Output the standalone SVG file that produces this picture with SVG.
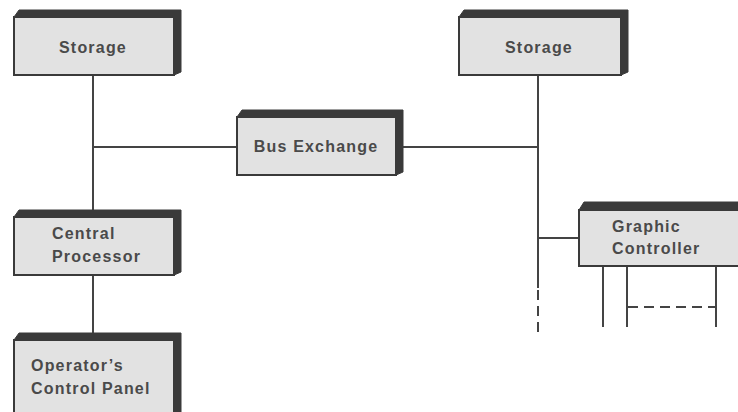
<svg xmlns="http://www.w3.org/2000/svg" width="738" height="412" viewBox="0 0 738 412">
<style>
.back{fill:#3a3a3a;stroke:#3a3a3a;stroke-width:1}
.face{fill:#e2e2e2;stroke:#3a3a3a;stroke-width:2}
.t{font-family:"Liberation Sans",Arial,sans-serif;font-size:16px;font-weight:bold;letter-spacing:1.2px;fill:#4a4a4a}
.ln{stroke:#444;stroke-width:2;fill:none}
.dash{stroke:#444;stroke-width:2;fill:none;stroke-dasharray:10,6}
</style>
<rect width="738" height="412" fill="#fff"/>
<g id="connectors">
<line class="ln" x1="93" y1="75" x2="93" y2="211"/>
<line class="ln" x1="93" y1="147" x2="237" y2="147"/>
<line class="ln" x1="93" y1="275" x2="93" y2="333"/>
<line class="ln" x1="403" y1="147" x2="538" y2="147"/>
<line class="ln" x1="538" y1="75" x2="538" y2="288"/>
<line class="dash" x1="538" y1="290" x2="538" y2="333"/>
<line class="ln" x1="538" y1="238" x2="579" y2="238"/>
<line class="ln" x1="603" y1="266" x2="603" y2="327"/>
<line class="ln" x1="627" y1="266" x2="627" y2="327"/>
<line class="ln" x1="716" y1="266" x2="716" y2="327"/>
<line class="dash" x1="628" y1="307" x2="716" y2="307" stroke-dasharray="11,7"/>
</g>
<g id="storage1">
<polygon class="back" points="14,17 19,10 181,10 181,72 174,75"/>
<rect class="face" x="14" y="17" width="160" height="58"/>
<text class="t" x="93" y="53" text-anchor="middle">Storage</text>
</g>
<g id="storage2">
<polygon class="back" points="459,17 464,10 628,10 628,72 621,75"/>
<rect class="face" x="459" y="17" width="162" height="58"/>
<text class="t" x="539" y="53" text-anchor="middle">Storage</text>
</g>
<g id="bus-exchange">
<polygon class="back" points="237,117 242,110 403,110 403,172 396,175"/>
<rect class="face" x="237" y="117" width="159" height="58"/>
<text class="t" x="316" y="152" text-anchor="middle">Bus  Exchange</text>
</g>
<g id="central-processor">
<polygon class="back" points="14,217 19,210 181,210 181,272 174,275"/>
<rect class="face" x="14" y="217" width="160" height="58"/>
<text class="t" x="52" y="239">Central</text>
<text class="t" x="52" y="262">Processor</text>
</g>
<g id="operators-panel">
<polygon class="back" points="14,340 19,333 181,333 181,420 174,420"/>
<rect class="face" x="14" y="340" width="160" height="80"/>
<text class="t" x="31" y="371">Operator’s</text>
<text class="t" x="31" y="394">Control Panel</text>
</g>
<g id="graphic-controller">
<polygon class="back" points="579,210 584,202 745,202 745,266 740,266"/>
<rect class="face" x="579" y="210" width="170" height="56"/>
<text class="t" x="612" y="232">Graphic</text>
<text class="t" x="612" y="254">Controller</text>
</g>
</svg>
